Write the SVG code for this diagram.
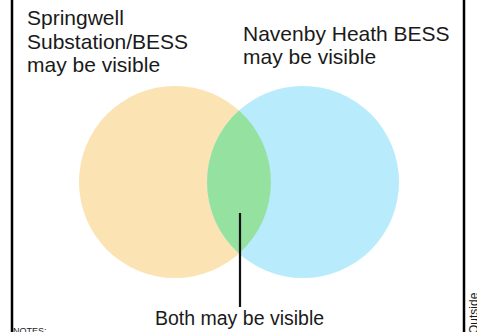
<svg xmlns="http://www.w3.org/2000/svg" width="477" height="332" viewBox="0 0 477 332">
<style>
.lbl{font-family:"Liberation Sans",Arial,sans-serif;fill:#1a1a1a}
.frame{stroke:#000;stroke-width:2.5}
</style>
<rect x="0" y="0" width="477" height="332" fill="#fff"/>
<g id="frame">
<line class="frame" x1="12" y1="0" x2="12" y2="332"/>
<line class="frame" x1="464" y1="0" x2="464" y2="332"/>
</g>
<g id="springwell">
<circle cx="175" cy="182" r="96" fill="#fbe3b4"/>
<text class="lbl" font-size="21" x="27" y="25">Springwell</text>
<text class="lbl" font-size="21" x="27" y="49">Substation/BESS</text>
<text class="lbl" font-size="21" x="27" y="72">may be visible</text>
</g>
<g id="navenby">
<circle cx="303" cy="182" r="96" fill="#b8ebfb"/>
<text class="lbl" font-size="21" x="243" y="41">Navenby Heath BESS</text>
<text class="lbl" font-size="21" x="243" y="64">may be visible</text>
</g>
<g id="both">
<path d="M239,110.5 A96,96 0 0,0 239,253.5 A96,96 0 0,0 239,110.5 Z" fill="#95e19f"/>
<text class="lbl" font-size="19.5" x="155" y="325">Both may be visible</text>
</g>
<g id="connectors">
<line x1="240" y1="213" x2="240" y2="307" stroke="#111" stroke-width="2.2"/>
</g>
<g id="notes">
<text class="lbl" font-size="9" x="13" y="334">NOTES:</text>
<text class="lbl" font-size="12" transform="translate(478,334) rotate(-90)">Outside</text>
</g>
</svg>
